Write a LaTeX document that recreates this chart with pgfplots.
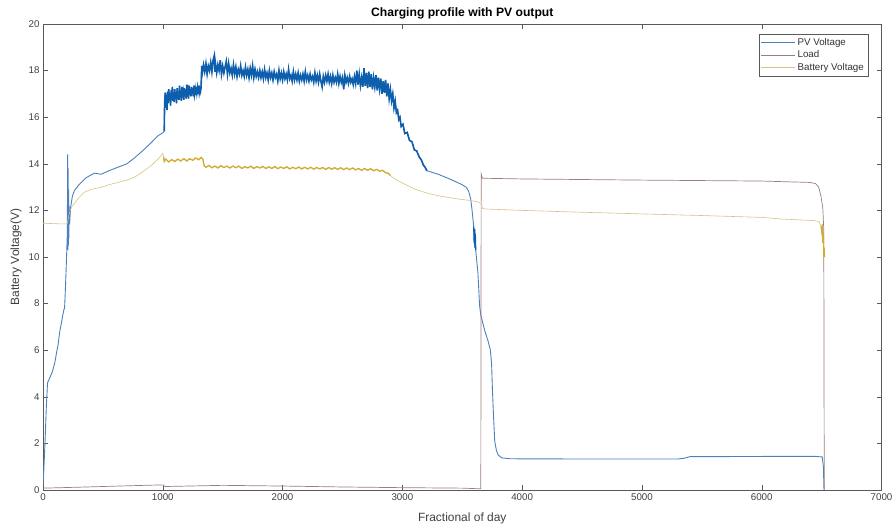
\documentclass[border=0pt]{standalone}
\usepackage{fontspec}
\setmainfont{Liberation Sans}
\usepackage{pgfplots}
\usepackage{pgfplotstable}
\pgfplotsset{compat=1.18}
\usetikzlibrary{calc}

\definecolor{pvc}{rgb}{0.30,0.50,0.75}
\definecolor{pvdark}{rgb}{0.05,0.37,0.68}
\definecolor{loadc}{rgb}{0.60,0.50,0.47}
\definecolor{batc}{rgb}{0.84,0.76,0.52}
\definecolor{batdark}{rgb}{0.82,0.67,0.20}
\definecolor{axc}{rgb}{0.35,0.35,0.35}

% PV voltage
\pgfplotstableread{
x y
0 0.2
8 1.0
18 2.2
28 3.6
38 4.6
55 4.8
80 5.1
100 5.5
115 5.95
125 6.2
140 6.8
155 7.2
165 7.5
175 7.75
180 7.8
186 8.5
192 9.3
198 10.2
203 11.0
206 14.4
208 10.3
210 13.8
212 10.5
214 12.9
216 10.8
218 12.2
222 11.4
230 12.1
245 12.6
262 12.85
300 13.1
359 13.4
429 13.6
485 13.55
550 13.7
624 13.85
700 14.0
763 14.25
830 14.55
902 14.9
960 15.2
1005 15.35
1012 15.4
1015 16.5
1020 17.05
1025 16.4
1030 16.95
1035 16.3
1040 17.1
1045 16.6
1050 17.2
1055 16.7
1060 17.0
1065 16.5
1070 17.15
1075 16.75
1080 17.3
1085 16.7
1090 17.05
1095 16.65
1100 17.2
1105 16.8
1110 17.0
1115 16.6
1120 17.25
1125 16.8
1130 17.1
1135 16.75
1140 17.35
1145 16.85
1150 17.1
1155 16.7
1160 17.3
1165 16.85
1170 17.05
1175 16.75
1180 17.25
1185 16.9
1190 17.15
1195 16.8
1200 17.4
1205 16.9
1210 17.1
1215 16.8
1220 17.35
1225 16.95
1230 17.2
1235 16.9
1240 17.3
1245 17.0
1250 17.25
1255 16.9
1260 17.35
1265 17.0
1270 17.2
1275 16.95
1280 17.3
1285 17.05
1290 17.25
1295 17.0
1300 17.35
1305 17.05
1310 17.2
1315 17.1
1320 17.3
1325 18.2
1330 17.9
1340 18.25
1350 17.95
1360 18.3
1370 17.85
1380 18.2
1390 18.0
1400 18.35
1410 17.95
1420 18.45
1430 18.65
1435 17.95
1440 18.3
1450 17.9
1460 18.25
1470 18.0
1480 18.45
1490 17.85
1500 18.2
1510 17.9
1520 18.15
1530 18.4
1540 17.85
1550 18.3
1560 17.9
1570 18.1
1580 17.8
1590 18.25
1600 17.85
1610 18.15
1620 17.75
1630 18.05
1640 17.85
1650 18.2
1660 17.8
1670 18.0
1680 17.75
1690 18.15
1700 17.8
1710 18.05
1720 17.7
1730 18.1
1740 17.8
1750 18.2
1760 17.7
1770 18.05
1780 17.75
1790 17.95
1800 17.7
1810 18.0
1820 17.7
1830 17.95
1840 17.65
1850 18.05
1860 17.7
1870 17.9
1880 17.6
1890 18.0
1900 17.7
1910 17.9
1920 17.6
1930 17.95
1940 17.7
1950 17.85
1960 17.55
1970 18.0
1980 17.65
1990 17.9
2000 17.6
2010 17.95
2020 17.65
2030 17.85
2040 17.6
2050 18.05
2060 17.65
2070 17.8
2080 17.55
2090 17.95
2100 17.6
2110 17.85
2120 17.6
2130 17.9
2140 17.55
2150 17.8
2160 17.6
2170 17.85
2180 17.55
2190 17.95
2200 17.6
2210 17.8
2220 17.55
2230 17.85
2240 17.6
2250 17.75
2260 17.5
2270 17.9
2280 17.55
2290 17.8
2300 17.5
2310 17.85
2320 17.55
2330 17.3
2340 17.75
2350 17.5
2360 17.8
2370 17.55
2380 17.85
2390 17.5
2400 17.75
2410 17.45
2420 17.8
2430 17.5
2440 17.7
2450 17.5
2460 17.85
2470 17.45
2480 17.75
2490 17.5
2500 17.7
2510 17.2
2520 17.8
2530 17.5
2540 17.7
2550 17.45
2560 17.75
2570 17.5
2580 17.65
2590 17.4
2600 17.75
2610 17.45
2620 18.0
2630 17.4
2640 17.85
2650 17.35
2660 17.7
2670 17.3
2680 18.1
2690 17.35
2700 17.9
2710 17.25
2720 17.95
2730 17.3
2740 17.85
2750 17.2
2760 17.7
2770 17.3
2780 17.8
2790 17.15
2800 17.7
2810 17.2
2820 17.65
2830 17.0
2840 17.55
2850 17.05
2860 17.6
2870 16.9
2880 17.45
2890 16.8
2900 17.2
2910 16.7
2920 17.0
2930 16.4
2940 16.7
2950 16.2
2960 16.3
2970 15.9
2980 16.0
2990 15.6
3005 15.7
3020 15.3
3040 15.35
3060 15.0
3080 14.95
3100 14.6
3120 14.55
3140 14.3
3160 14.15
3175 13.95
3190 13.85
3205 13.7
3220 13.68
3300 13.55
3381 13.38
3450 13.22
3500 13.1
3534 12.99
3555 12.8
3570 12.5
3580 12.1
3590 11.6
3596 11.3
3600 10.6
3603 11.2
3606 10.4
3609 11.0
3612 10.3
3620 9.9
3631 9.3
3645 7.9
3655 7.5
3670 7.2
3690 6.8
3715 6.4
3735 6.0
3745 5.4
3752 4.3
3760 3.3
3771 2.1
3785 1.7
3800 1.5
3830 1.38
3900 1.34
4500 1.33
5300 1.33
5350 1.36
5400 1.43
6000 1.44
6450 1.44
6505 1.42
6515 1.0
6520 0
}\pvdata

% Load
\pgfplotstableread{
x y
0 0.08
300 0.12
700 0.18
1000 0.22
1020 0.15
1500 0.2
2000 0.17
2500 0.13
3000 0.1
3500 0.08
3655 0.05
3658 13.57
3668 13.38
4000 13.35
5000 13.3
6000 13.26
6400 13.2
6450 13.15
6475 13.0
6495 12.6
6510 12.1
6518 11.2
6522 0
}\loaddata

% Battery voltage
\pgfplotstableread{
x y
0 11.45
150 11.42
200 11.42
206 11.5
220 11.9
240 12.15
262 12.3
300 12.55
345 12.78
400 12.9
485 12.99
550 13.1
624 13.2
700 13.3
763 13.42
830 13.65
902 13.92
960 14.2
1000 14.45
1008 14.3
1012 14.1
1025 14.2
1050 14.08
1075 14.18
1100 14.1
1125 14.2
1150 14.12
1175 14.22
1200 14.12
1225 14.22
1250 14.15
1275 14.25
1300 14.17
1320 14.27
1335 14.2
1345 13.92
1360 13.85
1385 13.93
1410 13.83
1435 13.9
1460 13.82
1485 13.92
1510 13.84
1535 13.9
1560 13.82
1585 13.9
1610 13.83
1635 13.9
1660 13.8
1685 13.88
1710 13.82
1735 13.9
1760 13.8
1785 13.88
1810 13.82
1835 13.89
1860 13.8
1885 13.87
1910 13.8
1935 13.88
1960 13.79
1985 13.86
2010 13.8
2035 13.87
2060 13.78
2085 13.85
2110 13.79
2135 13.86
2160 13.78
2185 13.85
2210 13.78
2235 13.85
2260 13.77
2285 13.84
2310 13.78
2335 13.84
2360 13.76
2385 13.84
2410 13.77
2435 13.83
2460 13.76
2485 13.83
2510 13.75
2535 13.82
2560 13.75
2585 13.82
2610 13.74
2635 13.8
2660 13.72
2685 13.8
2710 13.72
2735 13.79
2760 13.7
2785 13.76
2810 13.68
2835 13.72
2860 13.62
2880 13.6
2900 13.5
2935 13.35
2991 13.2
3050 13.05
3102 12.92
3170 12.8
3241 12.7
3310 12.62
3381 12.56
3480 12.48
3576 12.42
3640 12.35
3662 12.3
3668 12.08
3700 12.06
4000 12.0
4500 11.92
5000 11.85
5500 11.78
6000 11.7
6165 11.63
6444 11.56
6480 11.5
6495 11.3
6500 11.1
6505 11.4
6510 10.6
6515 11.0
6518 10.0
6522 10.4
6525 10.0
}\batdata

\begin{document}
\begin{tikzpicture}
\begin{axis}[%
name=ax,
width=838.5bp,
height=466bp,
scale only axis,
xmin=0, xmax=7000,
ymin=0, ymax=20,
xtick={0,1000,...,7000},
ytick={0,2,...,20},
major tick length=5bp,
axis line style={axc},
every tick/.style={axc},
tick label style={font=\fontsize{9.8}{11}\selectfont, text=black!75},
/pgf/number format/assume math mode=true,
/pgf/number format/1000 sep={},
title={\bfseries Charging profile with PV output},
every axis title shift=0pt,
title style={font=\fontsize{12.2}{14}\selectfont, at={(axis description cs:0.5,1)}, anchor=base, yshift=7bp},
xlabel={Fractional of day},
ylabel={Battery Voltage(V)},
xlabel style={font=\fontsize{12}{14}\selectfont, text=black!75, at={(axis description cs:0.5,-0.0601)}, anchor=center},
ylabel style={font=\fontsize{12}{14}\selectfont, text=black!75, at={(axis description cs:-0.0322,0.5)}, anchor=center},
legend style={at={(axis description cs:1,1)}, anchor=north east, xshift=-13.5bp, yshift=-10bp,
  draw=axc, font=\fontsize{9.8}{10}\selectfont, text=black!80, inner sep=2bp, row sep=0bp,
  cells={anchor=west}},
legend image code/.code={\draw[#1] (0bp,0bp) -- (34bp,0bp);},
]

\addplot[pvc, line width=0.9bp] table[x=x, y=y] {\pvdata};
\addlegendentry{PV Voltage}
\addplot[loadc, line width=0.7bp] table[x=x, y=y] {\loaddata};
\addlegendentry{Load}
\addplot[batc, line width=0.6bp] table[x=x, y=y] {\batdata};
\addlegendentry{Battery Voltage}

% the noisy stretches show as darker, thicker bands in the scan
\addplot[pvdark, line width=1.6bp, forget plot, restrict x to domain=1012:3210] table[x=x, y=y] {\pvdata};
\addplot[pvdark, line width=1.3bp, forget plot, restrict x to domain=3596:3615] table[x=x, y=y] {\pvdata};
\addplot[batdark, line width=1.3bp, forget plot, restrict x to domain=1008:2900] table[x=x, y=y] {\batdata};
\addplot[batdark, line width=1.1bp, forget plot, restrict x to domain=6495:6525] table[x=x, y=y] {\batdata};

\end{axis}
\pgfresetboundingbox
\path ($(ax.south west)+(-43bp,-39bp)$) rectangle ($(ax.north east)+(13.5bp,24bp)$);
\end{tikzpicture}
\end{document}
